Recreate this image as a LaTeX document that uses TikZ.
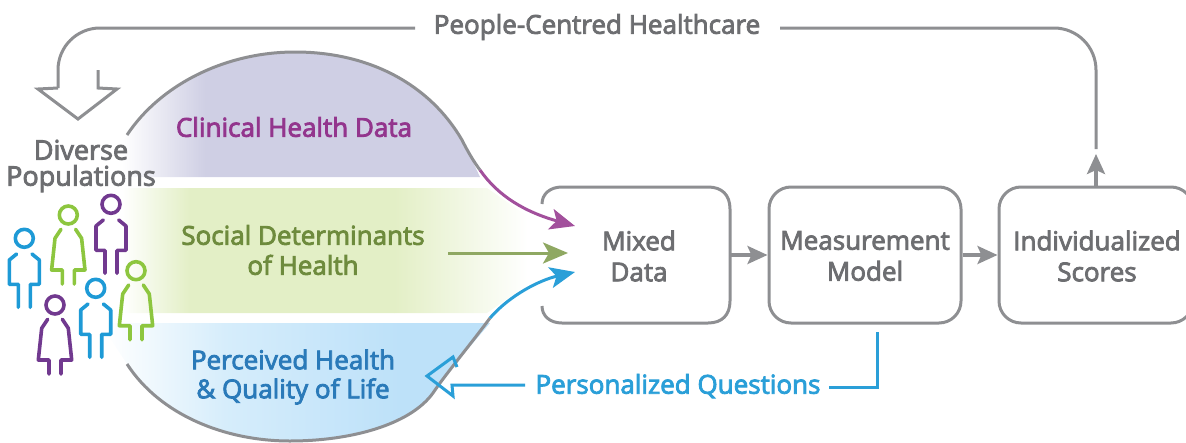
\documentclass[tikz,border=0pt]{standalone}
\usepackage{fontspec}
\setmainfont[FakeBold=3.2]{Open Sans}
\usetikzlibrary{arrows.meta,calc}
\definecolor{gtext}{HTML}{6D6E71}
\definecolor{gline}{HTML}{8E8F92}
\definecolor{ptext}{HTML}{93358D}
\definecolor{parrow}{HTML}{A2509C}
\definecolor{pfill}{HTML}{CFCFE4}
\definecolor{gntext}{HTML}{6E8B3D}
\definecolor{gnarrow}{HTML}{8FA862}
\definecolor{gnfill}{HTML}{E3EFC6}
\definecolor{btext}{HTML}{2A7AB9}
\definecolor{barrow}{HTML}{2A9FD8}
\definecolor{bfill}{HTML}{BDE1F9}
\definecolor{bfillb}{HTML}{D6EDFB}
\definecolor{fblue}{HTML}{1E9AD6}
\definecolor{fgreen}{HTML}{8DC63F}
\definecolor{fpurple}{HTML}{71398F}
\tikzset{
  x=1pt,y=-1pt,
  lbl/.style={inner sep=0pt,align=center,text=gtext,font=\fontsize{26}{31}\selectfont},
  flowbox/.style={rectangle,rounded corners=22pt,minimum height=136pt,line width=3pt,draw=gline,inner sep=0pt},
  openbox/.style={rectangle,minimum height=136pt,inner sep=0pt},
  gl/.style={line width=3pt,draw=gline},
  conn/.style={line width=3.6pt,draw=gline,-{Stealth[length=20pt,width=18pt,inset=4pt]}},
  inflow/.style={line width=3pt,-{Stealth[length=25pt,width=21pt,inset=6pt]}},
  hollow/.style={line width=3pt,line join=miter,fill=none},
  fig/.style={line width=3.6pt,line cap=round,line join=round},
  pics/manfig/.style={code={
    \draw[fig,draw=#1] (0,0) circle[radius=9];
    \draw[fig,draw=#1] (-7.7,15.7)--(-15,21.7)--(-15,46)--(-6,46)--(-6,69);
    \draw[fig,draw=#1] (7.7,15.7)--(15,21.7)--(15,46)--(6,46)--(6,69);
  }},
  pics/womanfig/.style={code={
    \draw[fig,draw=#1] (0,0) circle[radius=9];
    \draw[fig,draw=#1] (-7.3,14.3)--(-13.3,23.3)--(-16.7,55)--(-6,55)--(-6,69);
    \draw[fig,draw=#1] (7.3,14.3)--(13.3,23.3)--(16.7,55)--(6,55)--(6,69);
  }},
}
\begin{document}
\begin{tikzpicture}
\useasboundingbox (0,0) rectangle (1186,442);
% coloured zones
\begin{scope}
\clip (127,135) .. controls (160,85) and (225,52) .. (295,52) .. controls (370,52) and (430,85) .. (465,145) -- (480,177) -- (100,177) -- cycle;
\shade[left color=white,right color=pfill] (122,50) rectangle (205,180);
\fill[pfill] (204.5,50) rectangle (490,180);
\end{scope}
\begin{scope}
\clip (100,188) -- (487,188) -- (530,218) -- (530,283) -- (487,313) -- (100,313) -- cycle;
\shade[left color=white,right color=gnfill] (122,185) rectangle (190,316);
\fill[gnfill] (189.5,185) rectangle (395,316);
\shade[left color=gnfill,right color=white] (394.5,185) rectangle (528,316);
\end{scope}
\begin{scope}
\clip (100,323) -- (490,323) -- (467,350) -- (453,367) -- (433,393) .. controls (410,425) and (350,441) .. (290,441) .. controls (225,441) and (160,415) .. (127,364) -- cycle;
\shade[left color=white,right color=bfillb] (105,320) rectangle (225,445);
\shade[left color=bfillb,right color=bfill] (224.5,320) rectangle (400,445);
\fill[bfill] (399.5,320) rectangle (495,445);
\end{scope}
% boxes
\node[openbox,minimum width=188pt] (mixed) at (636,255) {};
\node[flowbox,minimum width=192pt] (measure) at (865,255) {};
\node[flowbox,minimum width=194pt] (indiv) at (1096,255) {};
% open box outline of Mixed Data
\draw[gl] (542,204) .. controls (542,194) and (550,187) .. (562,187) -- (708,187) .. controls (722,187) and (730,195) .. (730,209) -- (730,301) .. controls (730,315) and (722,323) .. (708,323) -- (562,323) .. controls (550,323) and (542,316) .. (542,306);
% blob outlines and inflow arrows
\coordinate (ptop) at (127,135);
\coordinate (pturn) at (480,170);
\coordinate (ctip) at (575,226);
\coordinate (gnstart) at (448,253);
\coordinate (gntip) at (568,253);
\coordinate (bbot) at (127,364);
\coordinate (bturn) at (490,318);
\coordinate (btip) at (575,272);
\draw[gl] (ptop) .. controls (160,85) and (225,52) .. (295,52) .. controls (370,52) and (430,85) .. (462,140) .. controls (468,152) and (474,162) .. (pturn);
\draw[inflow,draw=parrow] (pturn) .. controls (498,196) and (525,212) .. (ctip);
\draw[inflow,draw=gnarrow] (gnstart) -- (gntip);
\draw[gl] (bbot) .. controls (160,415) and (225,441) .. (290,441) .. controls (350,441) and (410,425) .. (433,393) .. controls (445,375) and (470,345) .. (bturn);
\draw[inflow,draw=barrow] (bturn) .. controls (510,295) and (540,280) .. (btip);
% flow arrows
\draw[conn] (mixed.east) -- (measure.west);
\draw[conn] (measure.east) -- (indiv.west);
% top feedback line
\node[lbl] (pch) at (597,27) {People-Centred Healthcare};
\coordinate (fbtip) at (1096,154);
\coordinate (fbrise) at (1096,149);
\coordinate (fbright) at (780,28);
\coordinate (fbleft) at (415,28);
\coordinate (hg0) at (58,88);
\draw[conn] (indiv.north) -- (fbtip);
\draw[gl,rounded corners=42pt] (fbrise) -- (1096,28) -- (fbright);
\draw[gl,rounded corners=42pt] (fbleft) -- (58,28) -- (hg0);
\draw[hollow,draw=gline] (hg0) -- (38,89) -- (78,119) -- (117,89) -- (98,88) -- (98,70);
% people
\pic at (24.3,238.3) {manfig=fblue};
\pic at (68.3,215) {womanfig=fgreen};
\pic at (111,204.3) {manfig=fpurple};
\pic at (136,270.7) {womanfig=fgreen};
\pic at (95.7,288.3) {manfig=fblue};
\pic at (55,305) {womanfig=fpurple};
% texts
\node[lbl,font=\fontsize{27}{26}\selectfont] (divpop) at (81,166) {Diverse\\Populations};
\node[lbl,text=ptext] (clin) at (294,127) {Clinical Health Data};
\node[lbl,text=gntext,font=\fontsize{26}{30}\selectfont] (soc) at (303,250) {Social Determinants\\of Health};
\node[lbl,text=btext,font=\fontsize{26}{29}\selectfont] (perc) at (293,377) {Perceived Health\\\& Quality of Life};
\node[lbl] (mixt) at (639,256) {Mixed\\Data};
\node[lbl] (meast) at (865,256) {Measurement\\Model};
\node[lbl] (indt) at (1097,256) {Individualized\\Scores};
% personalized questions
\node[lbl,text=barrow] (pq) at (678,386) {Personalized Questions};
\coordinate (pqend) at (525,385);
\coordinate (pqdown) at (877,332);
\coordinate (pqleft) at (829,387);
\draw[line width=3pt,draw=barrow] (pqdown) -- (877,387) -- (pqleft);
\draw[hollow,draw=barrow] (pqend) -- (452,385) -- (453,396) -- (427,376) -- (453,357) -- (457,367);
\end{tikzpicture}
\end{document}
